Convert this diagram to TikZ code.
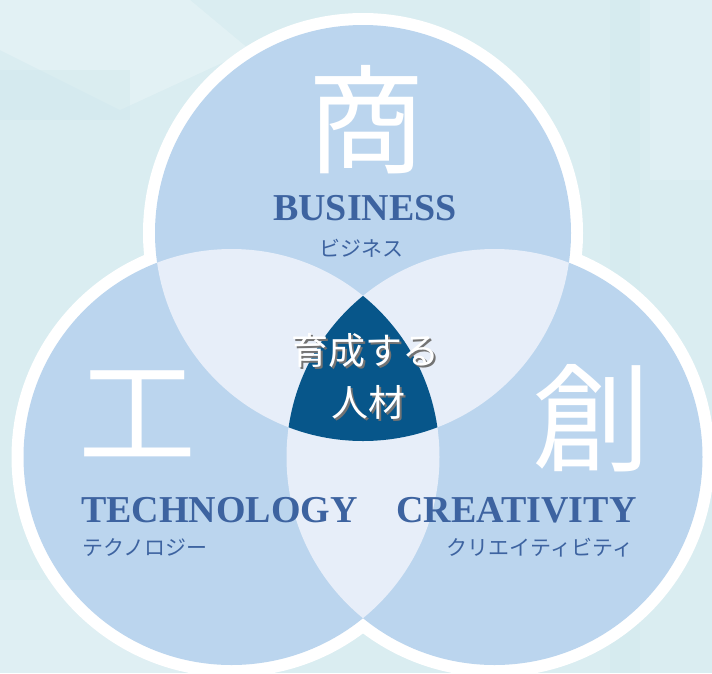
\documentclass[tikz,border=0pt]{standalone}
\usepackage{fontspec}
\newfontfamily\cjk{Noto Sans CJK JP}
\newfontfamily\lser{Liberation Serif}
\definecolor{bgc}{HTML}{DAEDF1}
\definecolor{bgl}{HTML}{E8F4F6}
\definecolor{bgd}{HTML}{CFE7EC}
\definecolor{circ}{HTML}{BBD5EE}
\definecolor{lens}{HTML}{E7EEF9}
\definecolor{core}{HTML}{07568A}
\definecolor{ink}{HTML}{3D63A0}
\colorlet{shade}{black!55}
\newcommand{\shadowed}[1]{\makebox[0pt][l]{\hspace{2pt}\raisebox{-2pt}{\textcolor{shade}{#1}}}#1}
\begin{document}
\begin{tikzpicture}[x=1pt,y=-1pt,
  big/.style={text=white, font=\cjk\fontsize{118}{118}\selectfont, inner sep=0pt},
  eng/.style={text=ink, font=\lser\bfseries\fontsize{38}{40}\selectfont, inner sep=0pt, anchor=base},
  kana/.style={text=ink, font=\cjk\fontsize{21}{23}\selectfont, inner sep=0pt},
  coretext/.style={text=white, font=\cjk\fontsize{37}{40}\selectfont, inner sep=0pt}]
\useasboundingbox (0,0) rectangle (712,673);
% background
\fill[bgc] (0,0) rectangle (712,673);
\fill[bgl, opacity=0.6] (0,0) -- (190,0) -- (250,50) -- (120,110) -- (0,50) -- cycle;
\fill[bgd, opacity=0.4] (0,70) rectangle (130,120);
\fill[bgd, opacity=0.3] (610,0) rectangle (640,673);
\fill[bgl, opacity=0.4] (650,0) rectangle (712,180);
\fill[bgl, opacity=0.4] (0,580) rectangle (180,673);
% circles
\coordinate (T) at (363,233);
\coordinate (L) at (231.5,457);
\coordinate (R) at (494.5,457);
\foreach \c in {T,L,R} \fill[white] (\c) circle (220pt);
\foreach \c in {T,L,R} \fill[circ] (\c) circle (208pt);
\begin{scope}
  \clip (T) circle (208pt);
  \fill[lens] (L) circle (208pt);
  \fill[lens] (R) circle (208pt);
\end{scope}
\begin{scope}
  \clip (L) circle (208pt);
  \fill[lens] (R) circle (208pt);
\end{scope}
\begin{scope}
  \clip (T) circle (208pt);
  \clip (L) circle (208pt);
  \fill[core] (R) circle (208pt);
\end{scope}
% big kanji
\node[big] (shou) at (366,120) {商};
\node[big] (kou) at (137,414) {工};
\node[big] (sou) at (591,418) {創};
% english labels
\node[eng] (bus) at (365,220) {BUSINESS};
\node[eng] (tech) at (219.5,522) {TECHNOLOGY};
\node[eng] (crea) at (516.5,522) {CREATIVITY};
% kana
\node[kana] (busk) at (361,248) {ビジネス};
\node[kana] (techk) at (145,548) {テクノロジー};
\node[kana] (creak) at (540,548) {クリエイティビティ};
% centre text
\node[coretext] (c1) at (365,352) {\shadowed{育成する}};
\node[coretext] (c2) at (368,403) {\shadowed{人材}};
\end{tikzpicture}
\end{document}
